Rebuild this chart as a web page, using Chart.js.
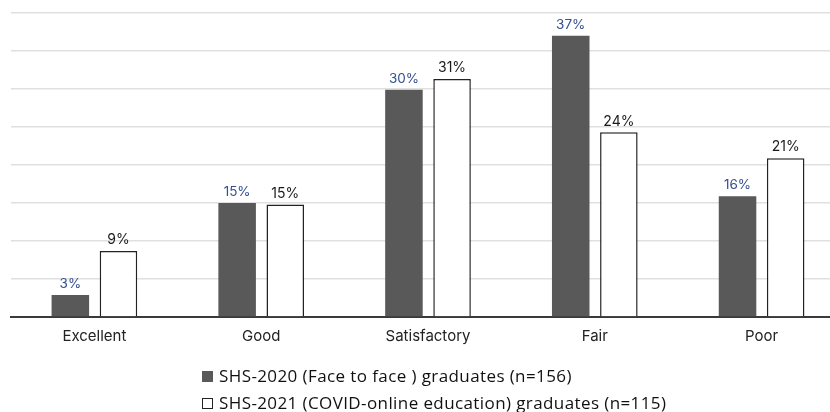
<!DOCTYPE html>
<html>
<head>
<meta charset="utf-8">
<script src="https://cdn.jsdelivr.net/npm/chart.js@4"></script>
<style>
  html, body { margin: 0; padding: 0; background: #fff; overflow: hidden; width: 830px; height: 412px; }
  #wrap { position: relative; width: 845px; height: 412px; }
  #c { display: block; }
  .leg { position: absolute; left: 202px; font-family: "Open Sans", "Liberation Sans", sans-serif; font-size: 17px; letter-spacing: 0.4px; color: #111; white-space: nowrap; display: flex; align-items: center; line-height: 20px; }
  .sw { width: 11px; height: 11px; margin-right: 6px; box-sizing: border-box; }
</style>
</head>
<body>
<div id="wrap">
  <canvas id="c" width="845" height="412"></canvas>
  <div class="leg" style="top:366px"><span class="sw" style="background:#595959"></span><span id="l1"></span></div>
  <div class="leg" style="top:393px"><span class="sw" style="background:#fff;border:1.3px solid #222"></span><span id="l2"></span></div>
</div>
<script>
const categories = ["Excellent", "Good", "Satisfactory", "Fair", "Poor"];
const seriesNames = ["SHS-2020 (Face to face ) graduates (n=156)", "SHS-2021 (COVID-online education) graduates (n=115)"];
const faceToFace = [2.9, 15.0, 29.9, 37.0, 15.9];
const online = [8.7, 14.8, 31.3, 24.3, 20.9];
const faceToFaceLabels = ["3%", "15%", "30%", "37%", "16%"];
const onlineLabels = ["9%", "15%", "31%", "24%", "21%"];

document.getElementById('l1').textContent = seriesNames[0];
document.getElementById('l2').textContent = seriesNames[1];

const labelPlugin = {
  id: 'valueLabels',
  afterDatasetsDraw(chart) {
    const ctx = chart.ctx;
    const sets = [
      { labels: faceToFaceLabels, color: '#354f8f', size: 13.5 },
      { labels: onlineLabels, color: '#1a1a1a', size: 14 }
    ];
    chart.data.datasets.forEach((ds, i) => {
      const meta = chart.getDatasetMeta(i);
      ctx.save();
      ctx.font = sets[i].size + 'px "Inter", "Liberation Sans", sans-serif';
      ctx.fillStyle = sets[i].color;
      ctx.textAlign = 'center';
      ctx.textBaseline = 'bottom';
      meta.data.forEach((el, j) => {
        ctx.fillText(sets[i].labels[j], el.x, el.y - 4);
      });
      ctx.restore();
    });
  }
};

new Chart(document.getElementById('c'), {
  type: 'bar',
  data: {
    labels: categories,
    datasets: [
      { label: seriesNames[0], data: faceToFace, backgroundColor: '#595959', borderWidth: 0,
        categoryPercentage: 0.577, barPercentage: 0.78 },
      { label: seriesNames[1], data: online, backgroundColor: '#ffffff', borderColor: '#222222', borderWidth: 1.5,
        categoryPercentage: 0.577, barPercentage: 0.78 }
    ]
  },
  options: {
    responsive: false,
    animation: false,
    layout: { padding: { left: 11, right: 0, top: 13, bottom: 65 } },
    plugins: { legend: { display: false }, tooltip: { enabled: false } },
    scales: {
      x: {
        grid: { display: false },
        border: { display: true, color: '#3a3a3a', width: 2 },
        ticks: { color: '#222', padding: 2, font: { family: '"Inter", "Liberation Sans", sans-serif', size: 15 } }
      },
      y: {
        min: 0, max: 40,
        ticks: { display: false, stepSize: 5 },
        grid: { color: '#e0e0e0', lineWidth: 1.5, drawTicks: false },
        border: { display: false }
      }
    }
  },
  plugins: [labelPlugin]
});
</script>
</body>
</html>
